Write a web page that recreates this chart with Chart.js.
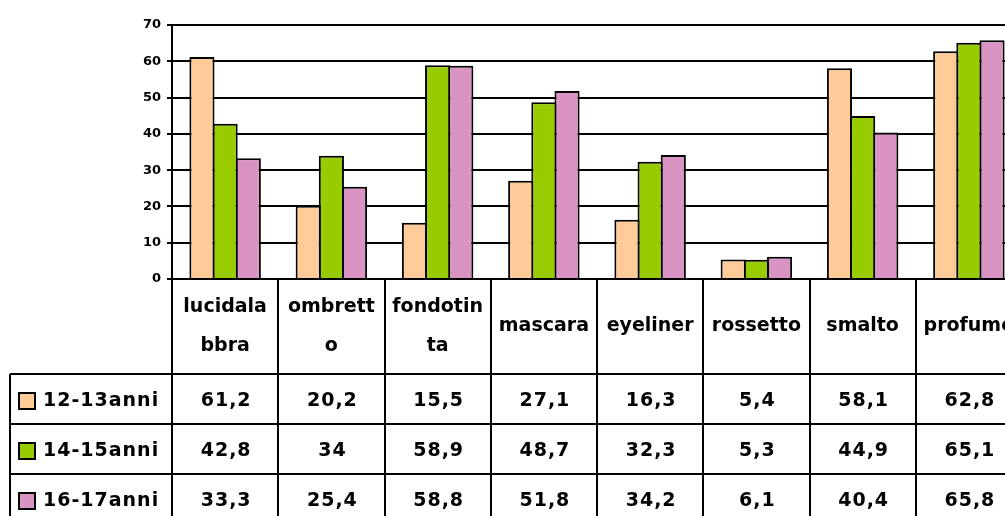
<!DOCTYPE html>
<html>
<head>
<meta charset="utf-8">
<script src="https://cdn.jsdelivr.net/npm/chart.js@4.4.0/dist/chart.umd.min.js"></script>
<style>
  html, body { margin: 0; padding: 0; background: #fff; overflow: hidden; }
  #wrap { width: 1030px; height: 516px; }
</style>
</head>
<body>
<div id="wrap"><canvas id="chart" width="1030" height="516"></canvas></div>
<script>
// categories, split the way the table cells wrap them
const categories = [
  ['lucidala', 'bbra'], ['ombrett', 'o'], ['fondotin', 'ta'], 'mascara',
  'eyeliner', 'rossetto', 'smalto', 'profumo'
];
const seriesNames = ['12-13anni', '14-15anni', '16-17anni'];
const age1213 = [61.2, 20.2, 15.5, 27.1, 16.3, 5.4, 58.1, 62.8];
const age1415 = [42.8, 34, 58.9, 48.7, 32.3, 5.3, 44.9, 65.1];
const age1617 = [33.3, 25.4, 58.8, 51.8, 34.2, 6.1, 40.4, 65.8];
const yTicks = [0, 10, 20, 30, 40, 50, 60, 70];

const colors = ['rgb(255, 204, 153)', 'rgb(153, 204, 0)', 'rgb(217, 148, 196)'];
const fontFamily = '"DejaVu Sans", sans-serif';

// the data table under the plot
const dataTable = {
  id: 'dataTable',
  afterDraw(chart) {
    const { ctx, chartArea, scales: { x } } = chart;
    const n = categories.length;
    const step = (chartArea.right - chartArea.left) / n;
    const top = chartArea.bottom;
    const headerBottom = 374;
    const rowH = 50;
    const bottom = chart.height + 5;
    const tableLeft = 10;

    ctx.save();
    ctx.strokeStyle = '#000';
    ctx.lineWidth = 2;
    ctx.beginPath();
    for (let i = 0; i <= n; i++) {
      const bx = Math.round(chartArea.left + i * step);
      ctx.moveTo(bx, top);
      ctx.lineTo(bx, bottom);
    }
    for (let r = 0; r < 3; r++) {
      const y = headerBottom + r * rowH;
      ctx.moveTo(tableLeft, y);
      ctx.lineTo(chartArea.right, y);
    }
    ctx.moveTo(tableLeft, headerBottom);
    ctx.lineTo(tableLeft, bottom);
    ctx.stroke();

    ctx.fillStyle = '#000';
    ctx.font = 'bold 19px ' + fontFamily;
    ctx.textAlign = 'center';
    ctx.textBaseline = 'middle';

    // header cells
    categories.forEach((c, i) => {
      const cx = x.getPixelForValue(i);
      const lines = Array.isArray(c) ? c : [c];
      const mid = (top + headerBottom) / 2;
      if (lines.length === 1) {
        ctx.fillText(lines[0], cx, mid);
      } else {
        ctx.fillText(lines[0], cx, mid - 19);
        ctx.fillText(lines[1], cx, mid + 20);
      }
    });

    // value rows
    ctx.letterSpacing = '1px';
    chart.data.datasets.forEach((ds, r) => {
      const cy = headerBottom + r * rowH + rowH / 2 + 2;
      ds.data.forEach((v, i) => {
        ctx.textAlign = 'center';
        ctx.fillText(String(v).replace('.', ','), x.getPixelForValue(i) + 1, cy);
      });
      // legend swatch + name
      ctx.fillStyle = colors[r];
      ctx.fillRect(19, cy - 8, 16, 16);
      ctx.lineWidth = 2;
      ctx.strokeRect(19, cy - 8, 16, 16);
      ctx.fillStyle = '#000';
      ctx.textAlign = 'left';
      ctx.fillText(ds.label, 43, cy);
    });
    ctx.restore();
  }
};

const config = {
  type: 'bar',
  data: {
    labels: categories,
    datasets: [
      { label: seriesNames[0], data: age1213, backgroundColor: colors[0] },
      { label: seriesNames[1], data: age1415, backgroundColor: colors[1] },
      { label: seriesNames[2], data: age1617, backgroundColor: colors[2] }
    ]
  },
  options: {
    responsive: false,
    animation: false,
    devicePixelRatio: 1,
    layout: { padding: { top: 25, right: 8, bottom: 0, left: 0 } },
    datasets: {
      bar: {
        borderColor: '#000',
        borderWidth: 2,
        // bars overlap by one border so neighbours share a single outline
        categoryPercentage: 0.654,
        barPercentage: 1.086
      }
    },
    plugins: {
      legend: { display: false },
      title: { display: false },
      tooltip: { enabled: false }
    },
    scales: {
      x: {
        grid: { display: false, drawTicks: false },
        border: { color: '#000', width: 2 },
        ticks: { display: false },
        afterFit(scale) { scale.height = 516 - 279; }
      },
      y: {
        min: 0,
        max: 70,
        afterBuildTicks(scale) { scale.ticks = yTicks.map(v => ({ value: v })); },
        grid: { color: '#000', lineWidth: 2, tickLength: 5 },
        border: { color: '#000', width: 2 },
        ticks: {
          color: '#000',
          padding: 6,
          font: { family: fontFamily, size: 13, weight: 'bold' }
        },
        afterFit(scale) { scale.width = 172; }
      }
    }
  },
  plugins: [dataTable]
};

new Chart(document.getElementById('chart'), config);
</script>
</body>
</html>
